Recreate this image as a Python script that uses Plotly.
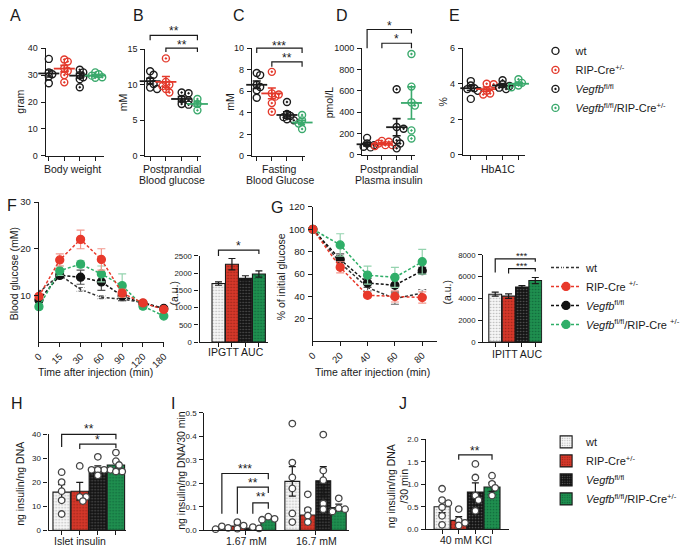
import numpy as np
import plotly.graph_objects as go

W, H = 685, 551
FONT = "Liberation Sans, Arial, Helvetica, sans-serif"
INK = "#1a1a1a"

# ---------------- data ----------------
GROUP_NAMES = ["wt", "RIP-Cre<sup>+/-</sup>", "<i>Vegfb</i><sup>fl/fl</sup>",
               "<i>Vegfb</i><sup>fl/fl</sup>/RIP-Cre<sup>+/-</sup>"]

# A  body weight (gram)
bw_pts = [[36.0, 31.0, 30.3, 29.5, 27.0], [35.8, 35.0, 32.5, 31.5, 30.0, 27.3],
          [32.0, 31.0, 30.0, 29.2, 28.5, 25.5], [31.0, 30.3, 29.8, 29.2, 29.0]]
bw_mean = [30.6, 32.4, 29.8, 29.8]
bw_sem = [1.3, 1.2, 0.9, 0.4]

# B  postprandial blood glucose (mM)
ppg_pts = [[11.9, 11.4, 10.6, 10.1, 9.6, 9.4], [13.7, 10.4, 10.0, 9.8, 9.4, 8.9],
           [8.9, 8.8, 8.0, 7.8, 7.3, 7.2], [8.0, 7.8, 7.3, 7.1, 6.4]]
ppg_mean = [10.5, 10.4, 8.0, 7.3]
ppg_sem = [0.4, 0.75, 0.35, 0.3]

# C  fasting blood glucose (mM)
fbg_pts = [[7.7, 7.5, 6.6, 6.4, 6.1, 5.4], [7.8, 5.8, 5.7, 5.5, 4.9, 4.1],
           [5.0, 3.9, 3.7, 3.6, 3.4, 3.3], [3.8, 3.3, 3.1, 3.0, 2.5]]
fbg_mean = [6.6, 5.8, 3.8, 3.1]
fbg_sem = [0.35, 0.5, 0.3, 0.2]

# D  postprandial plasma insulin (pmol/L)
ins_pts = [[160, 108, 92, 77, 71], [132, 123, 108, 92, 92, 83],
           [615, 262, 246, 138, 108, 62], [945, 640, 492, 462, 230, 154]]
ins_mean = [100, 105, 260, 487]
ins_sem = [15, 8, 80, 150]

# E  HbA1C (%)
hba_pts = [[4.15, 3.9, 3.75, 3.7, 3.6, 3.15], [4.0, 3.97, 3.6, 3.45, 3.4],
           [4.2, 3.97, 3.87, 3.78, 3.7], [4.25, 4.05, 3.9, 3.85, 3.8]]
hba_mean = [3.75, 3.7, 3.9, 4.0]
hba_sem = [0.13, 0.12, 0.08, 0.08]

# F  IPGTT
gtt_time = ["0", "15", "30", "60", "90", "120", "180"]
gtt_mean = [[10.7, 14.4, 11.3, 9.6, 9.2, 8.5, 7.2],
            [9.8, 17.6, 22.0, 17.7, 10.5, 8.4, 7.0],
            [9.0, 14.3, 13.9, 12.9, 9.9, 8.3, 7.2],
            [7.6, 15.3, 16.7, 14.6, 12.1, 7.7, 5.6]]
gtt_sem = [[0.4, 0.4, 0.4, 0.3, 0.3, 0.3, 0.3],
           [0.5, 1.3, 2.0, 2.3, 0.8, 0.5, 0.4],
           [0.5, 0.5, 1.5, 1.8, 1.0, 0.5, 0.4],
           [0.5, 1.0, 0.7, 1.7, 2.5, 0.6, 0.3]]
gtt_auc = [1700, 2260, 1850, 1975]
gtt_auc_sem = [50, 165, 75, 90]

# G  IPITT
itt_time = ["0", "20", "40", "60", "80"]
itt_mean = [[100, 70, 48, 38, 43],
            [100, 66, 41, 40, 39],
            [100, 73, 52, 50, 63],
            [100, 86, 59, 57, 71]]
itt_sem = [[0, 4, 3, 5, 3],
           [0, 5, 2, 5, 5],
           [0, 5, 4, 6, 3],
           [0, 10, 8, 9, 11]]
itt_auc = [4400, 4220, 5050, 5650]
itt_auc_sem = [180, 200, 130, 280]

# H  islet insulin (ng insulin / ng DNA)
islet_mean = [15.9, 16.3, 25.9, 27.2]
islet_sem = [3.1, 3.7, 0.9, 1.6]
islet_pts = [[24.2, 20.1, 16.3, 12.5, 6.8], [26.8, 13.9, 13.9, 12.2],
             [30.6, 25.2, 25.2, 25.2, 25.2, 22.9], [32.4, 28.8, 27.2, 24.5, 24.5]]

# I  GSIS (ng insulin / ng DNA / 30 min)
gsis_conds = ["1.67 mM", "16.7 mM"]
gsis_low_mean = [0.010, 0.018, 0.010, 0.049]
gsis_low_sem = [0.004, 0.006, 0.003, 0.003]
gsis_low_pts = [[0.017, 0.010, 0.005], [0.035, 0.020, 0.007], [0.014, 0.008], [0.058, 0.049, 0.045]]
gsis_high_mean = [0.208, 0.065, 0.211, 0.097]
gsis_high_sem = [0.063, 0.028, 0.060, 0.014]
gsis_high_pts = [[0.454, 0.288, 0.225, 0.178, 0.072, 0.035], [0.153, 0.086, 0.063, 0.035],
                 [0.407, 0.254, 0.213, 0.114, 0.090], [0.136, 0.094, 0.090, 0.080]]

# J  KCl-stimulated insulin secretion
kcl_mean = [0.50, 0.20, 0.83, 0.94]
kcl_sem = [0.13, 0.08, 0.20, 0.10]
kcl_pts = [[0.90, 0.65, 0.58, 0.49, 0.30, 0.10], [0.45, 0.20, 0.145, 0.087],
           [1.45, 1.15, 0.75, 0.65, 0.41], [1.19, 1.01, 0.92, 0.75]]

# ---------------- styles ----------------
RED = "#e3392b"
GREEN = "#3aa96c"
BLK = "#1c1c1c"
DOT_COL = [BLK, RED, BLK, GREEN]
DOT_SYM = ["circle-open", "circle-open-dot", "circle-open-dot", "circle-open-dot"]
LINE_COL = ["#333333", "#e8392b", "#111111", "#2fae68"]
ERR_COL = ["#666666", "#f2968c", "#555555", "#94d3ae"]
BAR_BG = ["#f6f6f6", "#d5382a", "#141414", "#1f8f4f"]
BAR_FG = ["#b4b4b4", "#9a2418", "#5a5a5a", "#10663a"]

# pixel boxes (left, right, top, bottom)
BOX = {
    'A': (40, 100, 43, 153), 'B': (143, 200, 44, 153), 'C': (253, 308, 43, 153),
    'D': (367, 422, 43, 152), 'E': (471, 535, 43, 152),
    'F': (33, 162, 200, 343), 'Fi': (199, 270, 255, 343),
    'G': (316, 444, 205, 342), 'Gi': (492, 553, 254, 343),
    'H': (43, 123, 437, 535), 'I': (204, 353, 415, 535), 'J': (433, 519, 442, 534),
}
AXN = {k: i + 1 for i, k in enumerate(BOX)}


def sfx(k):
    n = AXN[k]
    return "" if n == 1 else str(n)


def XR(k):
    return "x" + sfx(k)


def YR(k):
    return "y" + sfx(k)


def px(x):
    return x / W


def py(y):
    return 1 - y / H


fig = go.Figure()
layout = dict(width=W, height=H, margin=dict(l=0, r=0, t=0, b=0),
              paper_bgcolor="white", plot_bgcolor="white",
              font=dict(family=FONT, color=INK, size=10), annotations=[], shapes=[])
RANGES = {}


def make_axes(k, xr, xt, yr, yt, ytext=None, xtext=None, xangle=None, show_xlabels=False,
              tsize=9):
    l, r, t, b = BOX[k]
    s = sfx(k)
    RANGES[k] = (xr, yr)
    common = dict(showline=True, linecolor=INK, linewidth=1.3, ticks="outside", ticklen=4,
                  tickwidth=1.2, tickcolor=INK, showgrid=False, zeroline=False, fixedrange=True,
                  tickfont=dict(size=tsize, family=FONT, color=INK))
    layout["xaxis" + s] = dict(domain=[px(l), px(r)], anchor="y" + s, range=xr, tickvals=xt,
                               showticklabels=show_xlabels, **common)
    if xtext is not None:
        layout["xaxis" + s]["ticktext"] = xtext
    if xangle is not None:
        layout["xaxis" + s]["tickangle"] = xangle
    layout["yaxis" + s] = dict(domain=[py(b), py(t)], anchor="x" + s, range=yr, tickvals=yt,
                               ticklabelstandoff=1, **common)
    if ytext is not None:
        layout["yaxis" + s]["ticktext"] = ytext


def ppu(k):
    l, r, t, b = BOX[k]
    xr, yr = RANGES[k]
    return (r - l) / (xr[1] - xr[0]), (b - t) / (yr[1] - yr[0])


def swarm(vals, k, diam, spread=0.5, thr=0.7):
    xp, yp = ppu(k)
    order = np.argsort(vals)[::-1]
    cands = [0.0] + [sg * j * diam * spread for j in range(1, 8) for sg in (1, -1)]
    placed, offs = [], [0.0] * len(vals)
    for i in order:
        y = vals[i] * yp
        for c in cands:
            if all((c - a) ** 2 + (y - bb) ** 2 >= (diam * thr) ** 2 for a, bb in placed):
                break
        placed.append((c, y))
        offs[i] = c / xp
    return offs


# ---------------- axes ----------------
make_axes('A', [-0.2, 3.55], [0, 1, 2, 3], [0, 40], [0, 10, 20, 30, 40])
make_axes('B', [-0.3, 3.2], [0, 1, 2, 3], [0, 15], [0, 5, 10, 15])
make_axes('C', [-0.32, 3.2], [0, 1, 2, 3], [0, 10], [0, 2, 4, 6, 8, 10])
make_axes('D', [-0.33, 3.27], [0, 1, 2, 3], [0, 1000], [0, 200, 400, 600, 800, 1000])
make_axes('E', [-0.5, 3.4], [0, 1, 2, 3], [0, 6], [0, 2, 4, 6])
make_axes('F', [0, 6], list(range(7)), [0, 30], [10, 20, 30], xtext=gtt_time, xangle=-45,
          show_xlabels=True, tsize=9.5)
make_axes('Fi', [-1.4, 3.7], [0, 1, 2, 3], [0, 2500], [0, 500, 1000, 1500, 2000, 2500],
          tsize=7.8)
make_axes('G', [0, 4.53], list(range(5)), [0, 120], [20, 40, 60, 80, 100, 120], xtext=itt_time,
          xangle=-45, show_xlabels=True, tsize=9.5)
make_axes('Gi', [-0.9, 3.52], [0, 1, 2, 3], [0, 8000], [0, 2000, 4000, 6000, 8000], tsize=7.8)
make_axes('H', [-0.72, 3.56], [0, 1, 2, 3], [0, 40], [0, 10, 20, 30, 40], tsize=8)
I_OFF = 4.55
make_axes('I', [-1.125, 8.19], [1.5, 1.5 + I_OFF], [0, 0.5], [0, 0.1, 0.2, 0.3, 0.4, 0.5],
          ytext=["0.0", "0.1", "0.2", "0.3", "0.4", "0.5"], tsize=8)
make_axes('J', [-0.96, 4.04], [0, 1, 2, 3], [0, 2.0], [0, 0.5, 1.0, 1.5, 2.0],
          ytext=["0.0", "0.5", "1.0", "1.5", "2.0"], tsize=8)

# ---------------- dot plots ----------------
for k, pts, mean, sem in [('A', bw_pts, bw_mean, bw_sem), ('B', ppg_pts, ppg_mean, ppg_sem),
                          ('C', fbg_pts, fbg_mean, fbg_sem), ('D', ins_pts, ins_mean, ins_sem),
                          ('E', hba_pts, hba_mean, hba_sem)]:
    for g in range(4):
        offs = swarm(pts[g], k, 6.5, spread=0.55, thr=0.62)
        fig.add_trace(go.Scatter(
            x=[g + o for o in offs], y=pts[g], mode="markers", xaxis=XR(k), yaxis=YR(k),
            name=GROUP_NAMES[g], showlegend=(k == 'A'), legend="legend", legendrank=g,
            cliponaxis=False,
            marker=dict(symbol=DOT_SYM[g], size=7, color=DOT_COL[g],
                        line=dict(color=DOT_COL[g], width=1.4))))
        fig.add_trace(go.Scatter(
            x=[g], y=[mean[g]], mode="markers", xaxis=XR(k), yaxis=YR(k), showlegend=False,
            cliponaxis=False,
            marker=dict(symbol="line-ew", size=15, color=DOT_COL[g],
                        line=dict(color=DOT_COL[g], width=1.8)),
            error_y=dict(type="data", array=[sem[g]], color=DOT_COL[g], thickness=1.6, width=4)))

# ---------------- line plots ----------------
for k, means, sems in [('F', gtt_mean, gtt_sem), ('G', itt_mean, itt_sem)]:
    for g in [0, 2, 3, 1]:
        n = len(means[g])
        sym = "circle-open" if g == 0 else "circle"
        fig.add_trace(go.Scatter(
            x=list(range(n)), y=means[g], mode="lines+markers", xaxis=XR(k), yaxis=YR(k),
            name=GROUP_NAMES[g].replace("Cre<sup>", "Cre <sup>"), cliponaxis=False,
            showlegend=(k == 'F'), legend="legend2", legendrank=g,
            line=dict(color=LINE_COL[g], width=1.5, dash="3px,2px"),
            marker=dict(symbol=sym, size=8 if g else 7, color=LINE_COL[g] if g else "white",
                        line=dict(color=LINE_COL[g], width=1.3)),
            error_y=dict(type="data", array=sems[g], color=ERR_COL[g], thickness=1.2, width=4)))


# ---------------- bar plots ----------------
def add_bars(k, xs, means, sems, pts=None, legend=None, diam=6.5):
    for g in range(4):
        fig.add_trace(go.Bar(
            x=xs[g], y=means[g], xaxis=XR(k), yaxis=YR(k), width=0.96,
            name=GROUP_NAMES[g], showlegend=legend is not None, legend=legend or "legend",
            legendrank=g,
            marker=dict(color=BAR_BG[g], line=dict(color=INK, width=1.1),
                        pattern=dict(shape=".", bgcolor=BAR_BG[g], fgcolor=BAR_FG[g], size=3,
                                     solidity=0.22, fillmode="replace")),
            error_y=dict(type="data", array=sems[g], color=INK, thickness=1.2, width=3.5)))
    if pts is not None:
        for g in range(4):
            for j, x0 in enumerate(xs[g]):
                vals = pts[g][j]
                offs = swarm(vals, k, diam, spread=0.5, thr=0.75)
                fig.add_trace(go.Scatter(
                    x=[x0 + o for o in offs], y=vals, mode="markers", xaxis=XR(k), yaxis=YR(k),
                    showlegend=False, cliponaxis=False,
                    marker=dict(symbol="circle", size=6.5, color="white",
                                line=dict(color="#444444", width=1.3))))


add_bars('Fi', [[g] for g in range(4)], [[v] for v in gtt_auc], [[v] for v in gtt_auc_sem])
add_bars('Gi', [[g] for g in range(4)], [[v] for v in itt_auc], [[v] for v in itt_auc_sem])
add_bars('H', [[g] for g in range(4)], [[v] for v in islet_mean], [[v] for v in islet_sem],
         pts=[[p] for p in islet_pts])
add_bars('I', [[g, g + I_OFF] for g in range(4)],
         [[gsis_low_mean[g], gsis_high_mean[g]] for g in range(4)],
         [[gsis_low_sem[g], gsis_high_sem[g]] for g in range(4)],
         pts=[[gsis_low_pts[g], gsis_high_pts[g]] for g in range(4)])
add_bars('J', [[g] for g in range(4)], [[v] for v in kcl_mean], [[v] for v in kcl_sem],
         pts=[[p] for p in kcl_pts], legend="legend3")

layout["barmode"] = "overlay"


# ---------------- brackets ----------------
def bracket(k, xl, xr, y_line, y_left, y_right, text, y_text, x_text=None, size=12):
    xref = XR(k)
    layout["shapes"].append(dict(
        type="path", xref=xref, yref="paper",
        path=f"M {xl},{py(y_left)} L {xl},{py(y_line)} L {xr},{py(y_line)} L {xr},{py(y_right)}",
        line=dict(color=INK, width=1.2)))
    layout["annotations"].append(dict(
        xref=xref, yref="paper", x=(xl + xr) / 2 if x_text is None else x_text, y=py(y_text + 1.5),
        text=text, showarrow=False, xanchor="center", yanchor="middle",
        font=dict(size=size, family=FONT, color=INK)))


bracket('B', 0, 3, 30, 35, 35, "**", 24)
bracket('B', 1, 3, 43, 47, 47, "**", 38)
bracket('C', 0, 3, 43, 48, 48, "***", 39)
bracket('C', 1, 3, 57, 62, 62, "**", 52)
bracket('D', 0, 3, 24, 43, 28, "*", 19)
bracket('D', 1, 3, 38, 43, 43, "*", 32)
bracket('Fi', 0, 3, 249, 255, 253, "*", 243)
bracket('Gi', 0, 3, 258, 272, 261, "***", 253, x_text=2, size=9.5)
bracket('Gi', 1, 3, 268, 273, 271, "***", 263, size=9.5)
bracket('H', 0, 3, 437, 450, 442, "**", 430)
bracket('H', 1, 3, 447, 452, 451, "*", 441)
bracket('I', 0, 3, 477, 518, 483, "***", 471)
bracket('I', 1, 3, 491, 518, 497, "**", 485)
bracket('I', 2, 3, 507, 518, 513, "**", 500)
bracket('J', 1, 3, 458, 463, 463, "**", 453)


# ---------------- text ----------------
def note(x, y, text, size=10.5, angle=0):
    layout["annotations"].append(dict(
        xref="paper", yref="paper", x=px(x), y=py(y), text=text, showarrow=False,
        xanchor="center", yanchor="middle", textangle=angle,
        font=dict(size=size, family=FONT, color=INK)))


for lab, x, y in [("A", 9, 10), ("B", 136, 10), ("C", 240, 10), ("D", 346, 10), ("E", 462, 10),
                  ("F", 5, 204), ("G", 279, 206), ("H", 10, 406), ("I", 172, 406),
                  ("J", 409, 406)]:
    note(x, y, lab, size=16)

note(68, 166, "Body weight")
note(170, 166, "Postprandial")
note(170, 178, "Blood glucose")
note(282, 166, "Fasting")
note(282, 178, "Blood Glucose")
note(395, 166, "Postprandial")
note(395, 178, "Plasma insulin")
note(507, 166, "HbA1C")
note(91, 373, "Time after injection (min)")
note(237, 353, "IPGTT AUC")
note(378, 373, "Time after injection (min)")
note(527, 355, "IPITT AUC")
note(75, 546, "Islet insulin")
note(247, 546, gsis_conds[0])
note(320, 546, gsis_conds[1])
note(474, 545, "40 mM KCl")

note(13, 98, "gram", angle=-90)
note(120, 98, "mM", angle=-90)
note(230, 98, "mM", angle=-90)
note(333, 98, "pmol/L", angle=-90)
note(451, 98, "%", angle=-90)
note(7, 273, "Blood glucose (mM)", angle=-90)
note(173, 293, "(a.u.)", angle=-90)
note(284, 276, "% of initial glucose", angle=-90)
note(455, 292, "(a.u.)", angle=-90)
note(14, 488, "ng insulin/ng DNA", angle=-90)
note(179, 474, "ng insulin/ng DNA/30 min", angle=-90)
note(404, 490, "ng insulin/ng DNA<br>/30 min", angle=-90)

leg = dict(bgcolor="rgba(0,0,0,0)", borderwidth=0, xanchor="left", yanchor="top",
           font=dict(size=11, family=FONT, color=INK), itemclick=False, itemdoubleclick=False,
           tracegroupgap=0)
layout["legend"] = dict(leg, x=px(546), y=py(31))
layout["legend2"] = dict(leg, x=px(557), y=py(252))
layout["legend3"] = dict(leg, x=px(557), y=py(430))

fig.update_layout(**layout)
fig.write_html("out.html", post_script="document.body.style.margin='0';",
               config={"displayModeBar": False})
